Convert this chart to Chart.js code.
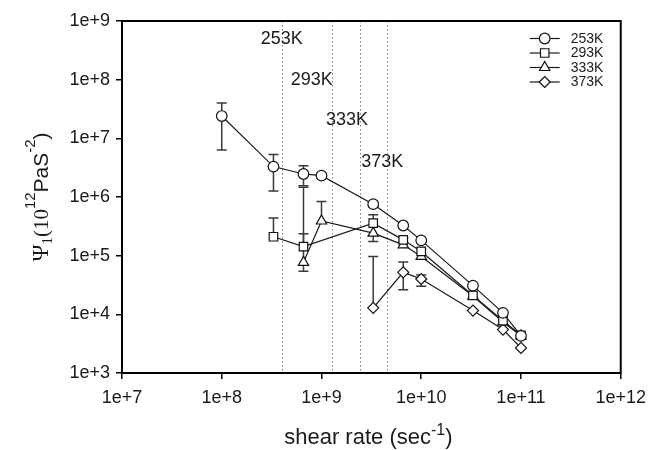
<!DOCTYPE html>
<html><head><meta charset="utf-8">
<script src="https://cdn.jsdelivr.net/npm/chart.js@4.4.1/dist/chart.umd.min.js"></script>
<style>html,body{margin:0;padding:0;background:#fff;}</style>
</head><body>
<canvas id="c" width="654" height="450" style="width:654px;height:450px;display:block"></canvas>
<script>
// ---- data ----
const shearRates = [1e8, 3.3e8, 6.6e8, 1e9, 3.3e9, 6.6e9, 1e10, 3.3e10, 6.6e10, 1e11];
const seriesLabels = ['253K', '293K', '333K', '373K'];
const psi253 = [2.4e7, 3.3e6, 2.47e6, 2.31e6, 7.55e5, 3.27e5, 1.82e5, 3.08e4, 1.06e4, 4.3e3];
const psi293 = [null, 2.1e5, 1.43e5, null, 3.58e5, 1.86e5, 1.18e5, 2.1e4, 7.8e3, 4.4e3];
const psi333 = [null, null, 7.7e4, 3.9e5, 2.42e5, 1.53e5, 9.7e4, 2.05e4, 7.4e3, 4.3e3];
const psi373 = [null, null, null, null, 1.29e4, 5.2e4, 4.0e4, 1.16e4, 5.5e3, 2.68e3];
// error bar ends (null = no bar in that direction)
const err253Low  = [6.3e6, 1.27e6, 1.55e6, 2.08e6, 6.9e5, null, null, null, null, null];
const err253High = [4.0e7, 5.3e6, 3.4e6, 2.55e6, 8.2e5, null, null, null, null, null];
const err293Low  = [null, null, null, null, null, 1.72e5, 1.08e5, null, null, null];
const err293High = [null, 4.4e5, 2.36e5, null, 4.97e5, 2.02e5, 1.3e5, null, null, null];
const err333Low  = [null, null, 5.4e4, null, 1.75e5, null, null, null, null, null];
const err333High = [null, null, 1.47e6, 8.4e5, null, null, null, null, null, null];
const err373Low  = [null, null, null, null, null, 2.63e4, 3.0e4, null, null, null];
const err373High = [null, null, null, null, 9.7e4, 7.8e4, 4.68e4, null, null, null];
// transition shear rates (dotted lines) and their labels
const transitionRates = [4.05e8, 1.26e9, 2.44e9, 4.49e9];
const transitionLabels = ['253K', '293K', '333K', '373K'];
const transitionLabelX = [4.0e8, 8.0e8, 1.8e9, 4.07e9];
const transitionLabelY = [4.9e8, 9.8e7, 2.05e7, 3.95e6];
// axis ticks
const xTickValues = [1e7, 1e8, 1e9, 1e10, 1e11, 1e12];
const xTickLabels = ['1e+7', '1e+8', '1e+9', '1e+10', '1e+11', '1e+12'];
const yTickValues = [1e3, 1e4, 1e5, 1e6, 1e7, 1e8, 1e9];
const yTickLabels = ['1e+3', '1e+4', '1e+5', '1e+6', '1e+7', '1e+8', '1e+9'];

const seriesValues = [psi253, psi293, psi333, psi373];
const seriesLow = [err253Low, err293Low, err333Low, err373Low];
const seriesHigh = [err253High, err293High, err333High, err373High];
const pointStyles = ['circle', 'rect', 'triangle', 'rectRot'];
const pointRadii = [5.3, 6, 6, 5.5];

const SANS = '"Liberation Sans", Arial, sans-serif';
const SERIF = '"Liberation Serif", "Times New Roman", serif';
Chart.defaults.font.family = SANS;
Chart.defaults.color = '#222';

const datasets = seriesValues.map((vals, s) => ({
  label: seriesLabels[s],
  data: shearRates.map((x, i) => vals[i] == null ? null : { x: x, y: vals[i] }).filter(p => p),
  borderColor: '#1a1a1a',
  borderWidth: 1.2,
  pointStyle: pointStyles[s],
  pointRadius: pointRadii[s],
  pointBackgroundColor: '#ffffff',
  pointBorderColor: '#111',
  pointBorderWidth: 1.2,
  tension: 0,
  fill: false
}));

function drawRich(ctx, pieces) {
  // pieces: [text, font, dy]; returns total width, draws from x=0 baseline 0
  let w = 0;
  pieces.forEach(p => { ctx.font = p[1]; w += ctx.measureText(p[0]).width; });
  let x = -w / 2;
  pieces.forEach(p => {
    ctx.font = p[1];
    ctx.fillText(p[0], x, p[2]);
    x += ctx.measureText(p[0]).width;
  });
}

const overlay = {
  id: 'overlay',
  beforeDatasetsDraw(chart) {
    const { ctx, chartArea: a, scales: { x, y } } = chart;
    ctx.save();
    ctx.beginPath();
    ctx.rect(a.left, a.top, a.right - a.left, a.bottom - a.top);
    ctx.clip();
    ctx.strokeStyle = '#808080';
    ctx.lineWidth = 1;
    ctx.setLineDash([1.5, 2.5]);
    transitionRates.forEach(v => {
      const px = Math.round(x.getPixelForValue(v)) + 0.5;
      ctx.beginPath(); ctx.moveTo(px, a.top); ctx.lineTo(px, a.bottom); ctx.stroke();
    });
    ctx.setLineDash([]);
    ctx.strokeStyle = '#3a3a3a';
    ctx.lineWidth = 1.5;
    seriesValues.forEach((vals, s) => {
      vals.forEach((v, i) => {
        if (v == null) return;
        const px = x.getPixelForValue(shearRates[i]);
        const py = y.getPixelForValue(v);
        [seriesLow[s][i], seriesHigh[s][i]].forEach(e => {
          if (e == null) return;
          const ey = y.getPixelForValue(e);
          ctx.beginPath();
          ctx.moveTo(px, py); ctx.lineTo(px, ey);
          ctx.moveTo(px - 5, ey); ctx.lineTo(px + 5, ey);
          ctx.stroke();
        });
      });
    });
    ctx.restore();
  },
  afterDatasetsDraw(chart) {
    const { ctx, scales: { x, y } } = chart;
    ctx.save();
    ctx.fillStyle = '#1a1a1a';
    ctx.font = '18px ' + SANS;
    ctx.textAlign = 'center';
    ctx.textBaseline = 'middle';
    transitionLabels.forEach((t, i) => {
      ctx.fillText(t, x.getPixelForValue(transitionLabelX[i]), y.getPixelForValue(transitionLabelY[i]));
    });
    ctx.restore();
  },
  afterDraw(chart) {
    const { ctx, chartArea: a } = chart;
    ctx.save();
    // frame
    ctx.strokeStyle = '#000';
    ctx.lineWidth = 2;
    ctx.strokeRect(a.left, a.top, a.right - a.left, a.bottom - a.top);
    // legend
    chart.data.datasets.forEach((ds, i) => {
      const ly = a.top + 17.5 + i * 14.5;
      ctx.strokeStyle = '#1a1a1a';
      ctx.lineWidth = 1.2;
      ctx.beginPath(); ctx.moveTo(a.right - 91, ly); ctx.lineTo(a.right - 61, ly); ctx.stroke();
      ctx.fillStyle = '#fff';
      ctx.strokeStyle = '#111';
      Chart.helpers.drawPoint(ctx, { pointStyle: ds.pointStyle, radius: ds.pointRadius, borderWidth: 1.2, rotation: 0 }, a.right - 76, ly);
      ctx.fillStyle = '#1a1a1a';
      ctx.font = '14px ' + SANS;
      ctx.textAlign = 'left';
      ctx.textBaseline = 'middle';
      ctx.fillText(ds.label, a.right - 50, ly + 0.5);
    });
    // x title
    ctx.fillStyle = '#1a1a1a';
    ctx.textAlign = 'left';
    ctx.textBaseline = 'alphabetic';
    ctx.save();
    ctx.translate((a.left + a.right) / 2 - 3, 444);
    drawRich(ctx, [
      ['shear rate (sec', '22px ' + SANS, 0],
      ['-1', '16px ' + SANS, -9],
      [')', '22px ' + SANS, 0]
    ]);
    ctx.restore();
    // y title
    ctx.save();
    ctx.translate(48, (a.top + a.bottom) / 2);
    ctx.rotate(-Math.PI / 2);
    drawRich(ctx, [
      ['\u03A8', '23px ' + SERIF, 0],
      ['1', '15px ' + SERIF, 4],
      ['(10', '21px ' + SERIF, 0],
      ['12', '15px ' + SANS, -13],
      ['PaS', '21px ' + SANS, 0],
      ['-2', '15px ' + SANS, -13],
      [')', '21px ' + SANS, 0]
    ]);
    ctx.restore();
    ctx.restore();
  }
};

new Chart(document.getElementById('c'), {
  type: 'line',
  data: { datasets: datasets },
  options: {
    responsive: false,
    animation: false,
    devicePixelRatio: 1,
    layout: { padding: { left: 0, top: 21, right: 30, bottom: 0 } },
    plugins: { legend: { display: false }, tooltip: { enabled: false } },
    scales: {
      x: {
        type: 'logarithmic',
        min: 1e7, max: 1e12,
        afterBuildTicks: s => { s.ticks = xTickValues.map(v => ({ value: v })); },
        afterFit: s => { s.height = 77; },
        ticks: {
          autoSkip: false, maxRotation: 0, padding: 8,
          font: { size: 18 }, color: '#1a1a1a',
          callback: (v) => xTickLabels[xTickValues.indexOf(v)] ?? ''
        },
        grid: { drawOnChartArea: false, drawTicks: true, tickLength: 6, color: '#000', lineWidth: 1.5 },
        border: { display: true, color: '#000', width: 2 }
      },
      y: {
        type: 'logarithmic',
        min: 1e3, max: 1e9,
        afterBuildTicks: s => { s.ticks = yTickValues.map(v => ({ value: v })); },
        afterFit: s => { s.width = 122; },
        ticks: {
          autoSkip: false, padding: 6,
          font: { size: 18 }, color: '#1a1a1a',
          callback: (v) => yTickLabels[yTickValues.indexOf(v)] ?? ''
        },
        grid: { drawOnChartArea: false, drawTicks: true, tickLength: 6, color: '#000', lineWidth: 1.5 },
        border: { display: true, color: '#000', width: 2 }
      }
    }
  },
  plugins: [overlay]
});
</script>
</body></html>
